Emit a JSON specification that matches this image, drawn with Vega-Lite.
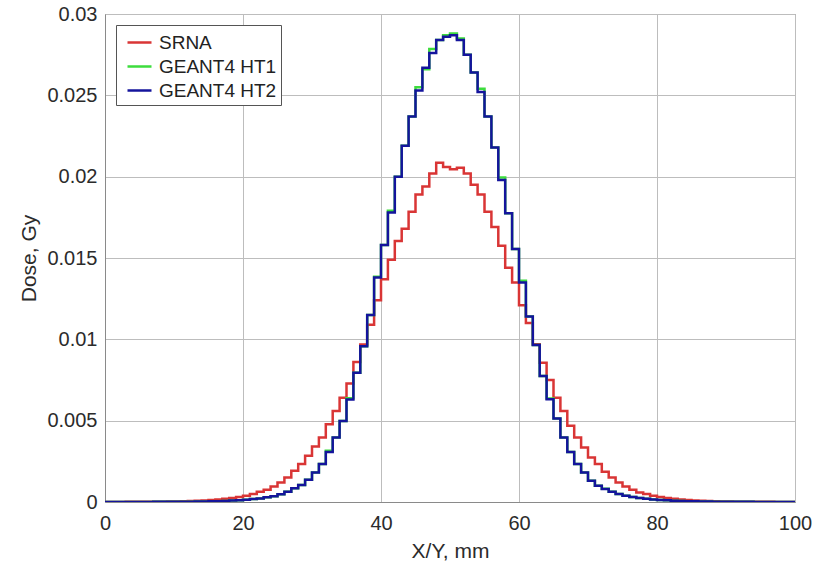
{
  "$schema": "https://vega.github.io/schema/vega-lite/v6.json",
  "width": 690,
  "height": 488,
  "autosize": "none",
  "padding": {"left": 105, "top": 14, "right": 30, "bottom": 62},
  "background": "white",
  "data": {"values": [
    {"x":0,"r":0.000005,"g":0.000003,"b":0.000003},
    {"x":1,"r":0.000006,"g":0.000003,"b":0.000003},
    {"x":2,"r":0.000007,"g":0.000004,"b":0.000004},
    {"x":3,"r":0.000008,"g":0.000004,"b":0.000004},
    {"x":4,"r":0.00001,"g":0.000005,"b":0.000005},
    {"x":5,"r":0.000012,"g":0.000006,"b":0.000006},
    {"x":6,"r":0.000015,"g":0.000007,"b":0.000007},
    {"x":7,"r":0.000018,"g":0.000008,"b":0.000008},
    {"x":8,"r":0.000022,"g":0.00001,"b":0.00001},
    {"x":9,"r":0.000028,"g":0.000012,"b":0.000012},
    {"x":10,"r":0.000035,"g":0.000014,"b":0.000014},
    {"x":11,"r":0.000045,"g":0.000017,"b":0.000017},
    {"x":12,"r":0.000055,"g":0.00002,"b":0.00002},
    {"x":13,"r":0.00007,"g":0.000025,"b":0.000025},
    {"x":14,"r":0.00009,"g":0.00003,"b":0.00003},
    {"x":15,"r":0.00012,"g":0.00004,"b":0.00004},
    {"x":16,"r":0.00015,"g":0.00005,"b":0.00005},
    {"x":17,"r":0.0002,"g":0.000065,"b":0.000065},
    {"x":18,"r":0.00025,"g":0.000085,"b":0.000085},
    {"x":19,"r":0.00031,"g":0.00011,"b":0.00011},
    {"x":20,"r":0.00039,"g":0.00014,"b":0.00014},
    {"x":21,"r":0.00049,"g":0.00018,"b":0.00018},
    {"x":22,"r":0.00063,"g":0.00022,"b":0.00022},
    {"x":23,"r":0.00075,"g":0.00029,"b":0.00029},
    {"x":24,"r":0.00096,"g":0.00035,"b":0.00035},
    {"x":25,"r":0.0012,"g":0.00047,"b":0.00047},
    {"x":26,"r":0.00151,"g":0.00063,"b":0.00063},
    {"x":27,"r":0.00192,"g":0.00084,"b":0.00084},
    {"x":28,"r":0.00233,"g":0.00104,"b":0.00104},
    {"x":29,"r":0.00284,"g":0.00137,"b":0.00137},
    {"x":30,"r":0.00341,"g":0.00182,"b":0.00182},
    {"x":31,"r":0.00396,"g":0.00233,"b":0.00233},
    {"x":32,"r":0.00478,"g":0.00315,"b":0.00308},
    {"x":33,"r":0.0056,"g":0.00396,"b":0.00396},
    {"x":34,"r":0.00641,"g":0.00498,"b":0.00498},
    {"x":35,"r":0.00729,"g":0.00638,"b":0.0063},
    {"x":36,"r":0.0086,"g":0.00795,"b":0.00795},
    {"x":37,"r":0.00968,"g":0.00958,"b":0.00958},
    {"x":38,"r":0.0109,"g":0.0115,"b":0.0115},
    {"x":39,"r":0.0124,"g":0.01385,"b":0.0138},
    {"x":40,"r":0.0137,"g":0.0158,"b":0.0158},
    {"x":41,"r":0.0149,"g":0.0179,"b":0.0178},
    {"x":42,"r":0.01605,"g":0.02,"b":0.02},
    {"x":43,"r":0.0168,"g":0.0219,"b":0.0219},
    {"x":44,"r":0.01785,"g":0.0237,"b":0.0237},
    {"x":45,"r":0.0189,"g":0.0255,"b":0.0253},
    {"x":46,"r":0.0194,"g":0.0266,"b":0.0267},
    {"x":47,"r":0.0202,"g":0.02785,"b":0.0276},
    {"x":48,"r":0.02085,"g":0.0284,"b":0.0284},
    {"x":49,"r":0.0206,"g":0.0287,"b":0.0286},
    {"x":50,"r":0.02045,"g":0.0288,"b":0.0287},
    {"x":51,"r":0.02055,"g":0.0285,"b":0.0284},
    {"x":52,"r":0.0202,"g":0.0275,"b":0.0275},
    {"x":53,"r":0.0195,"g":0.0264,"b":0.0264},
    {"x":54,"r":0.0189,"g":0.0254,"b":0.0252},
    {"x":55,"r":0.01785,"g":0.0237,"b":0.0237},
    {"x":56,"r":0.0169,"g":0.0218,"b":0.0218},
    {"x":57,"r":0.01575,"g":0.01995,"b":0.0198},
    {"x":58,"r":0.0144,"g":0.01775,"b":0.01775},
    {"x":59,"r":0.0135,"g":0.01555,"b":0.01555},
    {"x":60,"r":0.0121,"g":0.0136,"b":0.0135},
    {"x":61,"r":0.011,"g":0.0114,"b":0.0114},
    {"x":62,"r":0.0097,"g":0.00965,"b":0.00965},
    {"x":63,"r":0.00856,"g":0.00774,"b":0.00774},
    {"x":64,"r":0.0075,"g":0.00636,"b":0.00631},
    {"x":65,"r":0.00641,"g":0.00513,"b":0.00513},
    {"x":66,"r":0.0056,"g":0.00396,"b":0.00396},
    {"x":67,"r":0.00468,"g":0.00308,"b":0.00308},
    {"x":68,"r":0.00396,"g":0.00233,"b":0.00233},
    {"x":69,"r":0.00335,"g":0.00182,"b":0.00182},
    {"x":70,"r":0.00274,"g":0.00131,"b":0.00131},
    {"x":71,"r":0.00233,"g":0.001,"b":0.001},
    {"x":72,"r":0.00186,"g":0.00082,"b":0.0008},
    {"x":73,"r":0.00151,"g":0.00063,"b":0.00063},
    {"x":74,"r":0.0012,"g":0.00049,"b":0.00049},
    {"x":75,"r":0.00096,"g":0.00039,"b":0.00039},
    {"x":76,"r":0.00075,"g":0.0003,"b":0.0003},
    {"x":77,"r":0.00059,"g":0.00025,"b":0.00025},
    {"x":78,"r":0.00049,"g":0.0002,"b":0.0002},
    {"x":79,"r":0.00039,"g":0.00016,"b":0.00016},
    {"x":80,"r":0.00031,"g":0.00012,"b":0.00012},
    {"x":81,"r":0.00025,"g":0.0001,"b":0.0001},
    {"x":82,"r":0.0002,"g":0.00008,"b":0.00008},
    {"x":83,"r":0.00016,"g":0.00006,"b":0.00006},
    {"x":84,"r":0.00012,"g":0.00005,"b":0.00005},
    {"x":85,"r":0.00009,"g":0.00004,"b":0.00004},
    {"x":86,"r":0.00007,"g":0.00003,"b":0.00003},
    {"x":87,"r":0.000055,"g":0.000025,"b":0.000025},
    {"x":88,"r":0.000045,"g":0.00002,"b":0.00002},
    {"x":89,"r":0.000035,"g":0.000017,"b":0.000017},
    {"x":90,"r":0.000028,"g":0.000014,"b":0.000014},
    {"x":91,"r":0.000022,"g":0.000012,"b":0.000012},
    {"x":92,"r":0.000018,"g":0.00001,"b":0.00001},
    {"x":93,"r":0.000015,"g":0.000008,"b":0.000008},
    {"x":94,"r":0.000012,"g":0.000007,"b":0.000007},
    {"x":95,"r":0.00001,"g":0.000006,"b":0.000006},
    {"x":96,"r":0.000008,"g":0.000005,"b":0.000005},
    {"x":97,"r":0.000007,"g":0.000004,"b":0.000004},
    {"x":98,"r":0.000006,"g":0.000004,"b":0.000004},
    {"x":99,"r":0.000005,"g":0.000003,"b":0.000003},
    {"x":100,"r":0.000005,"g":0.000003,"b":0.000003}
  ]},
  "encoding": {
    "x": {"field": "x", "type": "quantitative",
      "scale": {"domain": [0, 100], "nice": false},
      "axis": {"title": "X/Y, mm", "values": [0, 20, 40, 60, 80, 100], "labelPadding": 11, "titlePadding": 7, "labelFlush": false}}
  },
  "layer": [
    {"mark": {"type": "line", "interpolate": "step-after", "strokeWidth": 2.5, "clip": true},
     "encoding": {
       "y": {"field": "r", "type": "quantitative", "title": "Dose, Gy",
         "scale": {"domain": [0, 0.03], "nice": false},
         "axis": {"values": [0, 0.005, 0.01, 0.015, 0.02, 0.025, 0.03], "format": ".3~f", "labelPadding": 8, "titlePadding": 7, "labelFlush": false}},
       "color": {"datum": "SRNA", "type": "nominal"}}},
    {"mark": {"type": "line", "interpolate": "step-after", "strokeWidth": 2.5, "clip": true},
     "encoding": {
       "y": {"field": "g", "type": "quantitative", "title": "Dose, Gy"},
       "color": {"datum": "GEANT4 HT1", "type": "nominal"}}},
    {"mark": {"type": "line", "interpolate": "step-after", "strokeWidth": 2.5, "clip": true},
     "encoding": {
       "y": {"field": "b", "type": "quantitative", "title": "Dose, Gy"},
       "color": {"datum": "GEANT4 HT2", "type": "nominal",
         "scale": {"domain": ["SRNA", "GEANT4 HT1", "GEANT4 HT2"], "range": ["#d93535", "#3ddc3d", "#14149c"]},
         "legend": {"title": null, "orient": "top-left", "offset": 11, "strokeColor": "#555555", "fillColor": "white",
           "padding": 4, "symbolType": "stroke", "symbolSize": 576, "symbolStrokeWidth": 2.5, "symbolOffset": 6,
           "labelFontSize": 19, "labelOffset": 6, "rowPadding": 0, "labelColor": "#222222"}}}}
  ],
  "config": {
    "font": "Liberation Sans",
    "view": {"stroke": "#8a8a8a", "strokeWidth": 1},
    "axis": {"gridColor": "#bdbdbd", "gridOpacity": 1, "gridWidth": 1, "domainColor": "#8a8a8a",
      "labelColor": "#2b2b2b", "titleColor": "#2b2b2b", "labelFontSize": 20, "titleFontSize": 21,
      "titleFontWeight": "normal", "ticks": false, "labelFont": "Liberation Sans", "titleFont": "Liberation Sans"}
  }
}
